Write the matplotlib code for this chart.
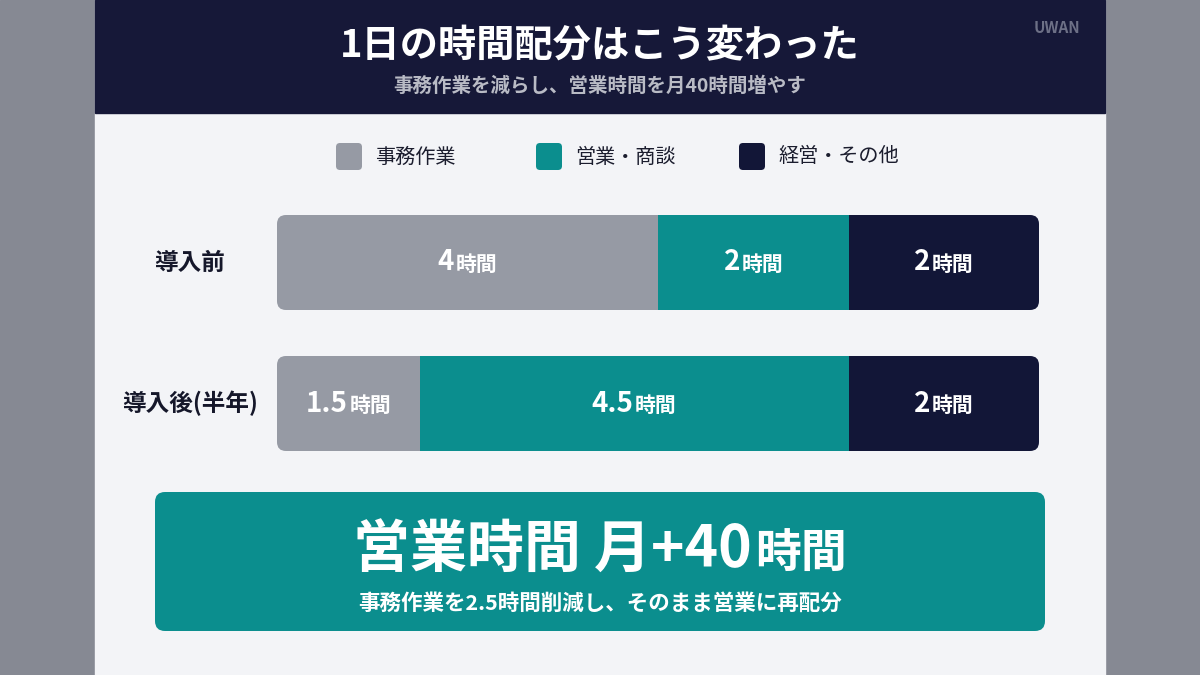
import matplotlib
matplotlib.use("Agg")
import matplotlib.pyplot as plt
from matplotlib.patches import Rectangle, FancyBboxPatch
from matplotlib.offsetbox import TextArea, HPacker, AnnotationBbox
import matplotlib.transforms as mtransforms

plt.rcParams['font.family'] = ['Noto Sans CJK JP', 'DejaVu Sans']

# data
title = '1日の時間配分はこう変わった'
subtitle = '事務作業を減らし、営業時間を月40時間増やす'
categories = ['事務作業', '営業・商談', '経営・その他']
rows = ['導入前', '導入後(半年)']
before = [4, 2, 2]
after = [1.5, 4.5, 2]
values = [before, after]
headline_main = '営業時間 月+40'
headline_unit = '時間'
headline_sub = '事務作業を2.5時間削減し、そのまま営業に再配分'

colors = ['#969aa4', '#0b8e8e', '#121637']
navy = '#161838'
W, H = 1200, 675

fig = plt.figure(figsize=(12, 6.75), dpi=100)

# background canvas in pixel units
bg = fig.add_axes([0, 0, 1, 1])
bg.set_xlim(0, W)
bg.set_ylim(H, 0)
bg.axis('off')
bg.add_patch(Rectangle((0, 0), W, H, color='#868993'))
bg.add_patch(Rectangle((95, 0), 1010, H, color='#f3f4f7'))
bg.add_patch(Rectangle((95, 0), 1010, 113, color=navy))

bg.text(600, 46, title, ha='center', va='center', color='white',
        fontsize=27.5, fontweight='bold')
bg.text(600, 86, subtitle, ha='center', va='center', color='#b9bbc5',
        fontsize=14, fontweight='bold')
bg.text(1057, 28, 'UWAN', ha='center', va='center', color='#6d7086',
        fontsize=11, fontweight='bold')

# legend
leg_x = [349, 549, 752]
for x, cat, c in zip(leg_x, categories, colors):
    bg.add_patch(FancyBboxPatch((x - 13, 143), 26, 27,
                                boxstyle='round,pad=0,rounding_size=4',
                                color=c, linewidth=0))
    bg.text(x + 26, 157, cat, ha='left', va='center', color='#1b1d2e',
            fontsize=14.5)

# stacked bars
ax_l, ax_r, ax_t, ax_b = 277, 1039, 215, 451
ax = fig.add_axes([ax_l / W, 1 - ax_b / H, (ax_r - ax_l) / W, (ax_b - ax_t) / H])
h = 95 / 141
total = sum(before)
ax.set_xlim(0, total)
ax.set_ylim(1 + h / 2, -h / 2)
ax.axis('off')

px_x = total / (ax_r - ax_l)
px_y = (1 + h) / (ax_b - ax_t)
r = 9 * px_x
aspect = px_y / px_x

for i, vals in enumerate(values):
    clip = FancyBboxPatch((0, i - h / 2), sum(vals), h,
                          boxstyle=f'round,pad=0,rounding_size={r}',
                          mutation_aspect=aspect, transform=ax.transData)
    left = 0
    for v, c in zip(vals, colors):
        bars = ax.barh(i, v, left=left, height=h, color=c, linewidth=0)
        for b in bars:
            b.set_clip_path(clip)
        num = TextArea(f'{v:g}', textprops=dict(color='white', fontsize=20,
                                                fontweight='bold'))
        unit = TextArea('時間', textprops=dict(color='white', fontsize=15,
                                              fontweight='bold'))
        pack = HPacker(children=[num, unit], align='baseline', pad=0, sep=1)
        ab = AnnotationBbox(pack, (left + v / 2, i), frameon=False,
                            box_alignment=(0.5, 0.5), annotation_clip=False)
        ax.add_artist(ab)
        left += v

trans = mtransforms.blended_transform_factory(fig.transFigure, ax.transData)
for i, name in enumerate(rows):
    ax.text(190 / W, i, name, transform=trans, ha='center', va='center',
            color='#15172a', fontsize=17, fontweight='bold')

# headline box
bg.add_patch(FancyBboxPatch((155, 492), 890, 139,
                            boxstyle='round,pad=0,rounding_size=10',
                            color=colors[1], linewidth=0))
big = TextArea(headline_main, textprops=dict(color='white', fontsize=41,
                                             fontweight='bold'))
big_unit = TextArea(headline_unit, textprops=dict(color='white', fontsize=33,
                                                  fontweight='bold'))
big_pack = HPacker(children=[big, big_unit], align='baseline', pad=0, sep=2)
bg.add_artist(AnnotationBbox(big_pack, (600, 551), frameon=False,
                             box_alignment=(0.5, 0.5)))
bg.text(600, 603, headline_sub, ha='center', va='center', color='white',
        fontsize=15.5, fontweight='bold')

fig.savefig('out.png', dpi=100)
